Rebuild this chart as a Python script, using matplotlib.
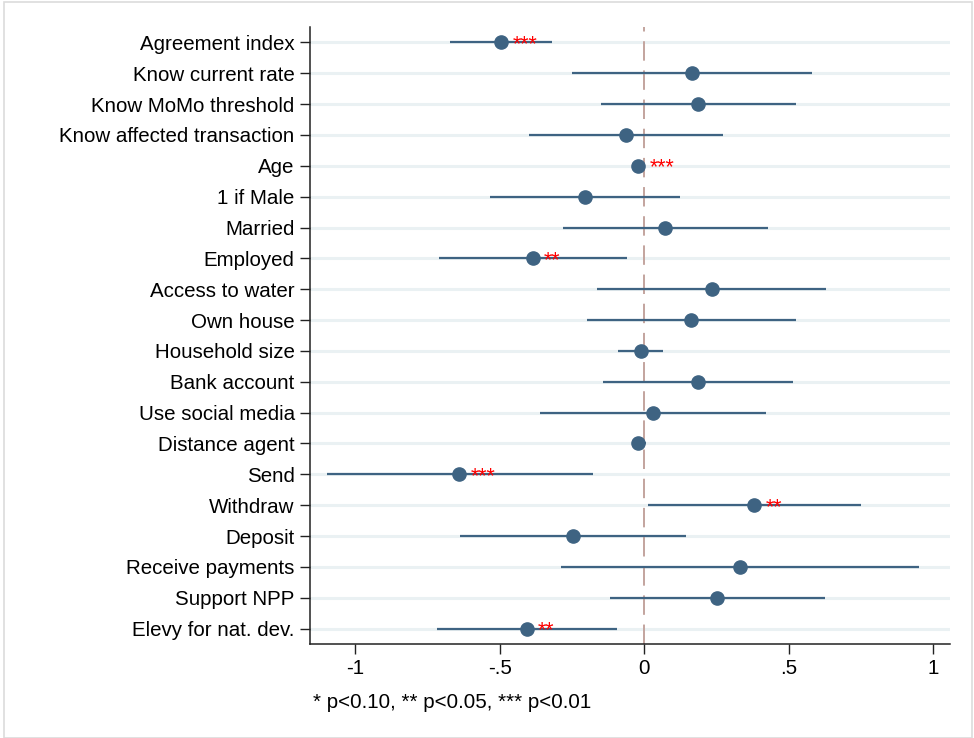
import matplotlib.pyplot as plt
import matplotlib.patches as mpatches
import numpy as np

plt.rcParams['font.family'] = ['Liberation Sans', 'DejaVu Sans']

# coefficients and 95% CIs, top to bottom
labels = ["Agreement index", "Know current rate", "Know MoMo threshold",
          "Know affected transaction", "Age", "1 if Male", "Married", "Employed",
          "Access to water", "Own house", "Household size", "Bank account",
          "Use social media", "Distance agent", "Send", "Withdraw", "Deposit",
          "Receive payments", "Support NPP", "Elevy for nat. dev."]
coef = [-0.494, 0.167, 0.187, -0.061, -0.020, -0.205, 0.074, -0.386,
        0.234, 0.164, -0.010, 0.186, 0.032, -0.020, -0.639, 0.382, -0.245,
        0.331, 0.251, -0.405]
lo = [-0.671, -0.248, -0.148, -0.397, -0.028, -0.533, -0.280, -0.710,
      -0.163, -0.199, -0.089, -0.141, -0.359, -0.039, -1.097, 0.013, -0.638,
      -0.289, -0.119, -0.716]
hi = [-0.318, 0.582, 0.527, 0.274, -0.012, 0.123, 0.430, -0.060,
      0.629, 0.527, 0.067, 0.514, 0.423, 0.007, -0.177, 0.751, 0.145,
      0.953, 0.626, -0.094]
stars = ["***", "", "", "", "***", "", "", "**", "", "", "", "", "", "",
         "***", "**", "", "", "", "**"]

xticks = [-1, -0.5, 0, 0.5, 1]
xticklabels = ["-1", "-.5", "0", ".5", "1"]

col = '#3e6382'
fs = 14.8

fig = plt.figure(figsize=(9.74, 7.38), dpi=100)
ax = fig.add_axes([0.3183, 0.1274, 0.9754 - 0.3183, 0.9634 - 0.1274])

# outer frame
fig.patches.append(mpatches.Rectangle((4 / 974, 0), 968 / 974, 736 / 738,
                                      transform=fig.transFigure, fill=False,
                                      edgecolor='#dcdcdc', linewidth=1.2))

y = np.arange(len(labels))
for yy in y:
    ax.axhline(yy, color='#eaf1f3', linewidth=2.2, zorder=0)
ax.axvline(0, color='#c3a49e', linewidth=1.4, dashes=(10, 5), zorder=1)

for i in range(len(labels)):
    ax.plot([lo[i], hi[i]], [y[i], y[i]], color=col, linewidth=1.6, zorder=2,
            solid_capstyle='butt')
ax.plot(coef, y, 'o', color=col, markersize=9.5, zorder=3)

for i in range(len(labels)):
    if stars[i]:
        ax.annotate(stars[i], (coef[i], y[i]), xytext=(8, -5.5),
                    textcoords='offset points', ha='left', va='baseline',
                    color='red', fontsize=15.5)

ax.set_xlim(-1.156, 1.059)
ax.set_ylim(len(labels) - 0.5, -0.5)
ax.set_yticks(y)
ax.set_yticklabels(labels, fontsize=fs)
ax.set_xticks(xticks)
ax.set_xticklabels(xticklabels, fontsize=fs)
ax.tick_params(axis='both', length=7, width=1, color='#222222', pad=4)

ax.spines['top'].set_visible(False)
ax.spines['right'].set_visible(False)
for s in ['left', 'bottom']:
    ax.spines[s].set_linewidth(1.1)
    ax.spines[s].set_color('#222222')

fig.text(313 / 974, 1 - 703 / 738, "* p<0.10, ** p<0.05, *** p<0.01",
         fontsize=fs, ha='left', va='center')

fig.savefig("out.png", dpi=100)
